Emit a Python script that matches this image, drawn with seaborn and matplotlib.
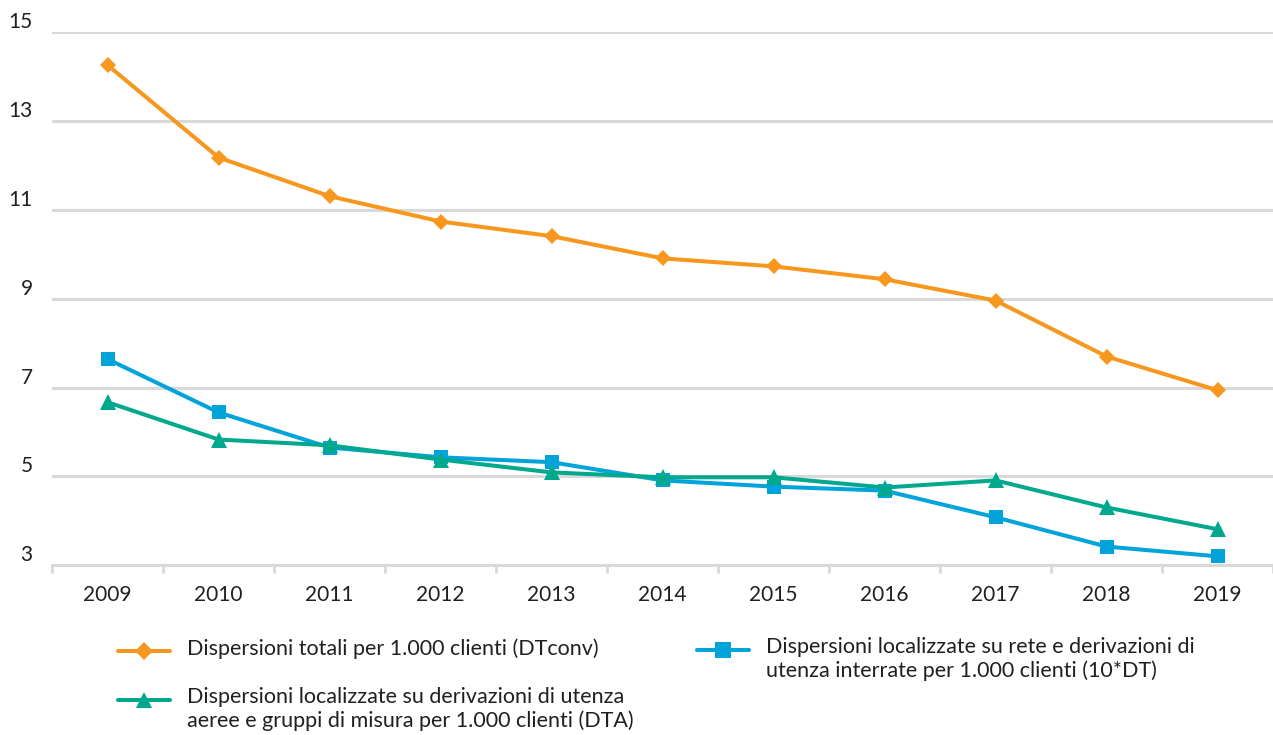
"""Dispersioni per 1.000 clienti, 2009-2019."""

import matplotlib.pyplot as plt
import pandas as pd
import seaborn as sns
from matplotlib.lines import Line2D


YEARS = ["2009", "2010", "2011", "2012", "2013", "2014",
         "2015", "2016", "2017", "2018", "2019"]
DT_CONV = [14.26, 12.18, 11.31, 10.74, 10.41, 9.91, 9.73, 9.44, 8.96, 7.70, 6.94]
DT_10 = [7.64, 6.44, 5.65, 5.43, 5.32, 4.91, 4.77, 4.68, 4.08, 3.42, 3.20]
DTA = [6.67, 5.83, 5.70, 5.38, 5.09, 4.98, 4.98, 4.75, 4.91, 4.30, 3.81]
Y_TICKS = [3, 5, 7, 9, 11, 13, 15]

LABELS = [
    "Dispersioni totali per 1.000 clienti (DTconv)",
    "Dispersioni localizzate su rete e derivazioni di\nutenza interrate per 1.000 clienti (10*DT)",
    "Dispersioni localizzate su derivazioni di utenza\naeree e gruppi di misura per 1.000 clienti (DTA)",
]
SERIES = [DT_CONV, DT_10, DTA]
COLORS = ["#F7971E", "#00A3DA", "#00A88E"]
MARKERS = ["D", "s", "^"]
MARKER_SIZES = [8, 10, 11]
TEXT_COLOR = "#231F20"
GRID_COLOR = "#D9D9D9"


def main() -> None:
    sns.set_theme(style="white")
    plt.rcParams["font.family"] = ["Lato", "DejaVu Sans"]

    df = pd.DataFrame(
        {
            "x": list(range(len(YEARS))) * len(SERIES),
            "value": DT_CONV + DT_10 + DTA,
            "serie": [lab for lab in LABELS for _ in YEARS],
        }
    )

    fig = plt.figure(figsize=(12.73, 7.35), dpi=100)
    ax = fig.add_axes([0.041, 0.231, 0.959, 0.725])

    for label, color, marker, msize in zip(LABELS, COLORS, MARKERS, MARKER_SIZES):
        sns.lineplot(
            data=df[df["serie"] == label], x="x", y="value", ax=ax,
            color=color, marker=marker, markersize=msize, linewidth=2.9,
            markeredgewidth=0, zorder=3, legend=False,
        )

    ax.set_xlim(-0.5, len(YEARS) - 0.5)
    ax.set_ylim(Y_TICKS[0], Y_TICKS[-1])
    ax.set_xlabel("")
    ax.set_ylabel("")

    ax.set_yticks(Y_TICKS)
    ax.set_yticklabels([str(t) for t in Y_TICKS])
    ax.grid(axis="y", color=GRID_COLOR, linewidth=2.2)
    ax.grid(axis="x", visible=False)
    ax.tick_params(axis="y", length=0, pad=14, labelsize=15, labelcolor=TEXT_COLOR)
    for tick_label in ax.get_yticklabels():
        tick_label.set_verticalalignment("bottom")

    ax.set_xticks(range(len(YEARS)))
    ax.set_xticklabels(YEARS)
    ax.set_xticks([i - 0.5 for i in range(len(YEARS) + 1)], minor=True)
    ax.tick_params(axis="x", which="major", length=0, pad=14,
                   labelsize=15, labelcolor=TEXT_COLOR)
    ax.tick_params(axis="x", which="minor", length=6, width=2,
                   color=GRID_COLOR, direction="out", bottom=True)

    for side in ["top", "right", "left"]:
        ax.spines[side].set_visible(False)
    ax.spines["bottom"].set_color(GRID_COLOR)
    ax.spines["bottom"].set_linewidth(2.2)

    # legend drawn by hand so the markers sit on the first text line
    W, H = 1273, 735
    legend_pos = [(118, 651), (697, 650), (118, 700)]
    for (px, py), label, color, marker, msize in zip(
        legend_pos, LABELS, COLORS, MARKERS, MARKER_SIZES
    ):
        y = 1 - py / H
        fig.add_artist(
            Line2D(
                [px / W, (px + 26) / W, (px + 52) / W], [y, y, y],
                transform=fig.transFigure, color=color, linewidth=2.9,
                marker=marker, markevery=[1], markersize=msize + 1,
                markeredgewidth=0,
            )
        )
        fig.text(
            (px + 69) / W, y + 13 / H, label, transform=fig.transFigure,
            fontsize=15.5, color=TEXT_COLOR, va="top", ha="left",
            linespacing=1.2,
        )

    fig.savefig("out.png", dpi=100)
    plt.close(fig)


if __name__ == "__main__":
    main()
